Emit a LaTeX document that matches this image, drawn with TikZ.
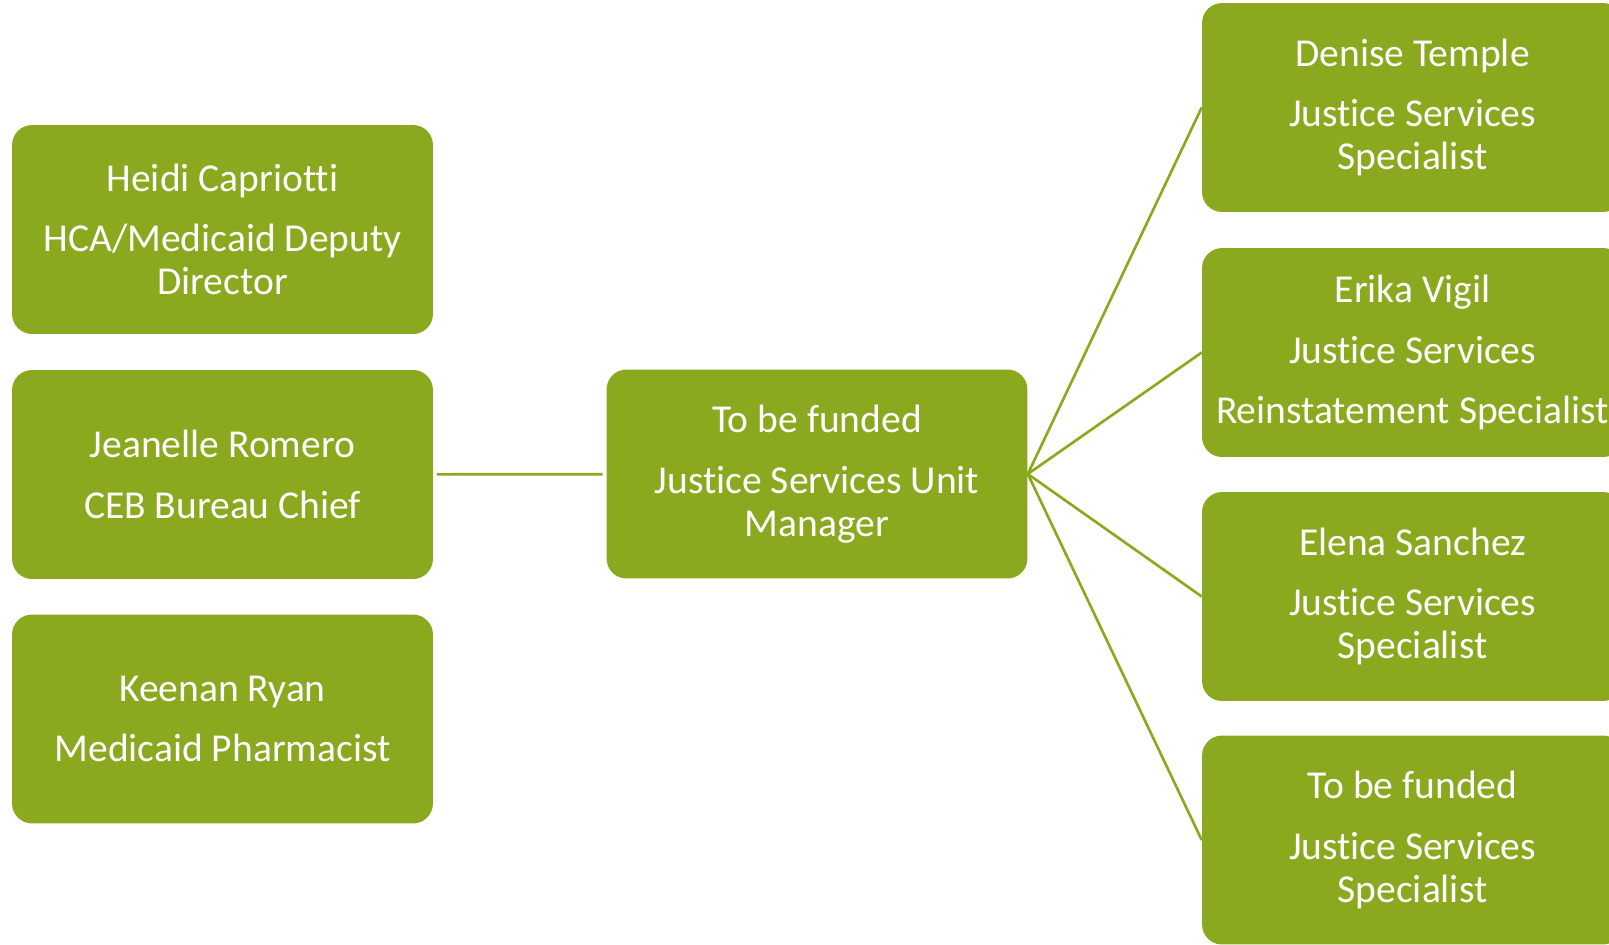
\documentclass[tikz,border=0pt]{standalone}
\usepackage{fontspec}
\setmainfont{Carlito}[Ligatures=NoCommon]
\definecolor{boxgreen}{RGB}{138,169,30}
\tikzset{
  person/.style={fill=boxgreen, text=white, rounded corners=0.4cm, align=center,
    minimum width=8.42cm, minimum height=4.18cm, inner sep=0pt,
    font=\fontsize{22.5}{24.5}\selectfont},
  link/.style={draw=boxgreen, line width=1.5pt}
}
\begin{document}
\begin{tikzpicture}[x=0.02cm,y=-0.02cm]
\useasboundingbox (0,0) rectangle (1609,944);
\node[person] (heidi) at (222.5,229.5) {Heidi Capriotti\\[10pt]HCA/Medicaid Deputy\\Director};
\node[person] (jeanelle) at (222.5,474.5) {Jeanelle Romero\\[10pt]CEB Bureau Chief};
\node[person] (keenan) at (222.5,719) {Keenan Ryan\\[10pt]Medicaid Pharmacist};
\node[person] (manager) at (817,474) {To be funded\\[10pt]Justice Services Unit\\Manager};
\node[person] (denise) at (1412.5,107.5) {Denise Temple\\[10pt]Justice Services\\Specialist};
\node[person] (erika) at (1412.5,352.5) {Erika Vigil\\[10pt]Justice Services\\[10pt]Reinstatement Specialist};
\node[person] (elena) at (1412.5,596.5) {Elena Sanchez\\[10pt]Justice Services\\Specialist};
\node[person] (funded) at (1412.5,840) {To be funded\\[10pt]Justice Services\\Specialist};
\draw[link, shorten <=2pt, shorten >=2pt] (jeanelle) -- (manager);
\foreach \n in {denise,erika,elena,funded} \draw[link] (manager.east) -- (\n.west);
\end{tikzpicture}
\end{document}
